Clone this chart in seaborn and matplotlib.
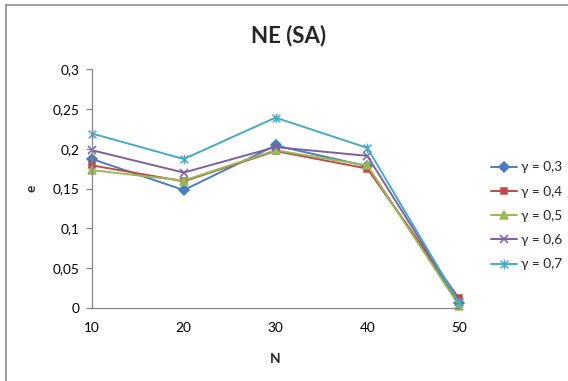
import numpy as np
import pandas as pd
import matplotlib
matplotlib.use("Agg")
import matplotlib.pyplot as plt
from matplotlib.path import Path
from matplotlib.lines import Line2D
import seaborn as sns

# Data
n_values = [10, 20, 30, 40, 50]
gamma_labels = ["γ = 0,3", "γ = 0,4", "γ = 0,5", "γ = 0,6", "γ = 0,7"]
e_g03 = [0.187, 0.148, 0.204, 0.178, 0.006]
e_g04 = [0.179, 0.159, 0.197, 0.175, 0.012]
e_g05 = [0.173, 0.160, 0.198, 0.179, 0.003]
e_g06 = [0.198, 0.170, 0.202, 0.191, 0.008]
e_g07 = [0.219, 0.187, 0.239, 0.201, 0.007]
y_ticks = [0, 0.05, 0.1, 0.15, 0.2, 0.25, 0.3]
y_tick_labels = ["0", "0,05", "0,1", "0,15", "0,2", "0,25", "0,3"]

series = [e_g03, e_g04, e_g05, e_g06, e_g07]
df = pd.DataFrame({
    "N": n_values * len(series),
    "e": [v for s in series for v in s],
    "gamma": [g for g in gamma_labels for _ in n_values],
})

sns.set_theme(style="white")
plt.rcParams["font.family"] = ["Lato", "DejaVu Sans"]

colors = ["#4A7EBB", "#BE4B48", "#98B954", "#7D60A0", "#46AAC5"]

# Asterisk marker: an x with a vertical stroke
star_path = Path(
    [(-1, -1), (1, 1), (-1, 1), (1, -1), (0, -1.25), (0, 1.25)],
    [Path.MOVETO, Path.LINETO, Path.MOVETO, Path.LINETO, Path.MOVETO, Path.LINETO],
)
markers = ["D", "s", "^", "x", star_path]
msizes = [5.0, 5.0, 6.0, 6.0, 7.0]

fig = plt.figure(figsize=(5.68, 3.81), dpi=100)
ax = fig.add_axes([92 / 568, 1 - 308 / 381, (459 - 92) / 568, (308 - 69) / 381])

handles = []
for g, c, m, ms in zip(gamma_labels, colors, markers, msizes):
    sub = df[df["gamma"] == g]
    sns.lineplot(data=sub, x="N", y="e", ax=ax, color=c, marker=m,
                 markersize=ms, markeredgecolor=c, markerfacecolor=c,
                 markeredgewidth=1.1, linewidth=1.4, clip_on=False,
                 legend=False)
    handles.append(Line2D([0], [0], color=c, marker=m, markersize=ms,
                          markeredgecolor=c, markerfacecolor=c,
                          markeredgewidth=1.1, linewidth=1.4))

ax.set_xlim(10, 50)
ax.set_ylim(0, 0.3)
ax.set_xticks(n_values)
ax.set_xticklabels([str(n) for n in n_values])
ax.set_yticks(y_ticks)
ax.set_yticklabels(y_tick_labels)

for side in ["top", "right"]:
    ax.spines[side].set_visible(False)
for side in ["left", "bottom"]:
    ax.spines[side].set_color("#868686")
    ax.spines[side].set_linewidth(0.9)

ax.tick_params(axis="y", which="major", left=True, length=4, width=0.9,
               color="#868686", pad=5, labelsize=9.8, labelcolor="#000000")
ax.tick_params(axis="x", which="major", bottom=False, length=0, pad=10,
               labelsize=9.8, labelcolor="#000000")

ax.set_xlabel("N", fontsize=9.8, fontweight="bold", labelpad=14)
ax.set_ylabel("e", fontsize=9.8, fontweight="bold", labelpad=11)

fig.text(289 / 568, 1 - 36 / 381, "NE (SA)", ha="center", va="center",
         fontsize=16, fontweight="bold")

fig.legend(handles, gamma_labels, loc="upper left",
           bbox_to_anchor=(486 / 568, 1 - 156 / 381), frameon=False,
           fontsize=9.8, handlelength=1.9, handletextpad=0.3,
           labelspacing=0.9, borderaxespad=0)

# Outer chart frame
fig.add_artist(Line2D([6 / 568, 6 / 568], [0, 1 - 5 / 381],
                      transform=fig.transFigure, color="#8C8C8C", lw=1.2))
fig.add_artist(Line2D([6 / 568, 1], [1 - 5 / 381, 1 - 5 / 381],
                      transform=fig.transFigure, color="#8C8C8C", lw=1.2))

fig.savefig("out.png", dpi=100)
